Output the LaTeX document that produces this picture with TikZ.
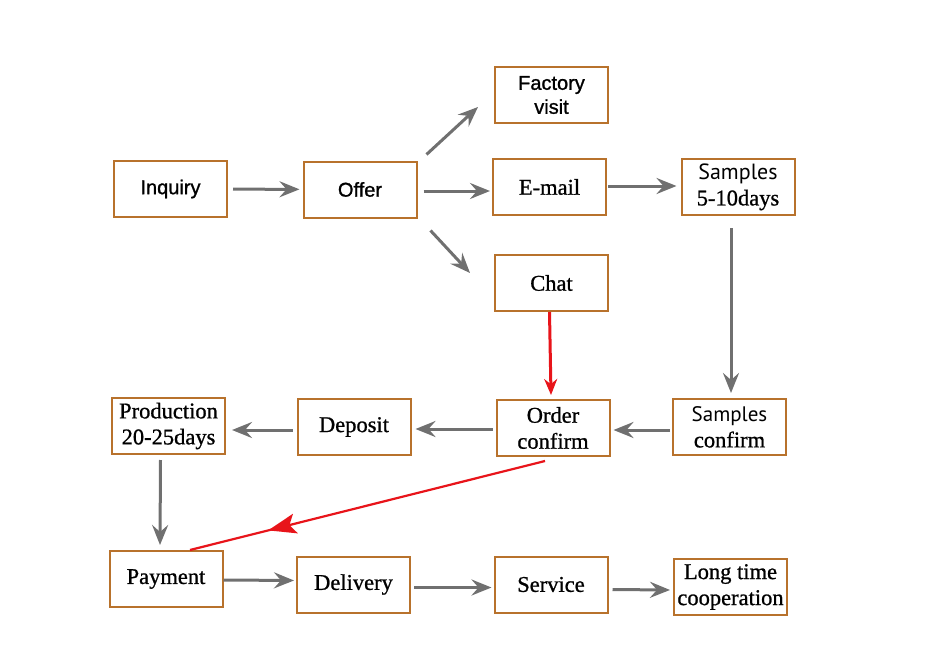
\documentclass[tikz,border=0pt]{standalone}
\usepackage{fontspec}
\setmainfont{Liberation Serif}[BoldFont=Liberation Serif, BoldFeatures={FakeBold=0.9}]
\newfontfamily\arialfont{Liberation Sans}[BoldFont=Liberation Sans, BoldFeatures={FakeBold=1.1}]
\newfontfamily\myriadfont{PT Sans}
\usetikzlibrary{arrows.meta}
\usetikzlibrary{decorations.markings}
\definecolor{boxbrown}{HTML}{B8722C}
\definecolor{arrgray}{HTML}{707070}
\definecolor{arrred}{HTML}{E8141A}

\begin{document}
\begin{tikzpicture}[x=1pt,y=-1pt,
    stepbox/.style={draw=boxbrown, line width=2pt, minimum width=113pt, minimum height=56pt,
      inner sep=1pt, align=center, font=\bfseries\fontsize{22.5}{26}\selectfont},
    sansbox/.style={stepbox, font=\arialfont\bfseries\fontsize{20}{24}\selectfont},
    arr/.style={draw=arrgray, line width=3pt, -{Stealth[length=20pt,width=16pt,inset=7pt]}},
    redarr/.style={draw=arrred, line width=3pt, -{Stealth[length=16pt,width=13pt]}}]
    \useasboundingbox (0,0) rectangle (934,658);
    \node [sansbox] (inquiry) at (170.5,189) {Inquiry};
    \node [sansbox] (offer) at (360,189.5) {Offer};
    \node [sansbox] (factory) at (551.5,95) {Factory\\visit};
    \node [stepbox] (email) at (549.5,187) {E-mail};
    \node [stepbox] (chat) at (551.5,283) {Chat};
    \node [stepbox] (samples) at (738,187) {{\myriadfont\mdseries\fontsize{22}{26}\selectfont Samples}\\5-10days};
    \node [stepbox] (sconfirm) at (729.5,427) {{\myriadfont\mdseries\fontsize{21}{25}\selectfont Samples}\\confirm};
    \node [stepbox] (order) at (553,428) {Order\\confirm};
    \node [stepbox] (deposit) at (354,427) {Deposit};
    \node [stepbox] (production) at (168.5,426) {Production\\20-25days};
    \node [stepbox] (payment) at (166,579) {Payment};
    \node [stepbox] (delivery) at (353.5,584.5) {Delivery};
    \node [stepbox] (service) at (551,584.5) {Service};
    \node [stepbox] (longtime) at (730.5,587) {Long time\\cooperation};
    \draw [arr, shorten <=5pt, shorten >=3pt] (inquiry) -- (offer);
    \draw [arr] ([shift={(9,-6)}]offer.north east) -- ([shift={(-16,-17)}]factory.south west);
    \draw [arr, shorten <=6pt, shorten >=2pt] ([shift={(0,1.5)}]offer.east) -- ([shift={(0,4)}]email.west);
    \draw [arr] ([shift={(13,12)}]offer.south east) -- ([shift={(-24,19)}]chat.north west);
    \draw [arr, shorten <=1pt, shorten >=4pt] ([shift={(0,-1)}]email.east) -- ([shift={(0,-1)}]samples.west);
    \draw [arr] ([shift={(-7,12)}]samples.south) -- ([shift={(1.5,-5)}]sconfirm.north);
    \draw [arr, shorten <=2pt, shorten >=3pt] ([shift={(0,3)}]sconfirm.west) -- ([shift={(0,2)}]order.east);
    \draw [redarr] ([xshift=-2]chat.south) -- ([shift={(-2,-4)}]order.north);
    \draw [arr, shorten <=3pt, shorten >=4pt] ([shift={(0,1)}]order.west) -- ([shift={(0,2)}]deposit.east);
    \draw [arr, shorten <=4pt, shorten >=6pt] ([shift={(0,3)}]deposit.west) -- ([shift={(0,4)}]production.east);
    \draw [arr] ([shift={(-8,5)}]production.south) -- ([shift={(-6,-5)}]payment.north);
    \draw [arrred, line width=2.2pt, postaction={decorate},
      decoration={markings, mark=at position 0.78 with {\arrow[arrred]{Stealth[length=28pt,width=20pt,inset=6pt]}}}]
      ([shift={(-8,4)}]order.south) -- ([shift={(24,0)}]payment.north);
    \draw [arr, shorten >=2pt] ([shift={(0,1)}]payment.east) -- ([shift={(0,-4)}]delivery.west);
    \draw [arr, shorten <=3pt, shorten >=2pt] ([shift={(0,3)}]delivery.east) -- ([shift={(0,3)}]service.west);
    \draw [arr, shorten <=4pt, shorten >=3pt] ([shift={(0,5)}]service.east) -- ([shift={(0,3)}]longtime.west);
  \end{tikzpicture}
\end{document}
